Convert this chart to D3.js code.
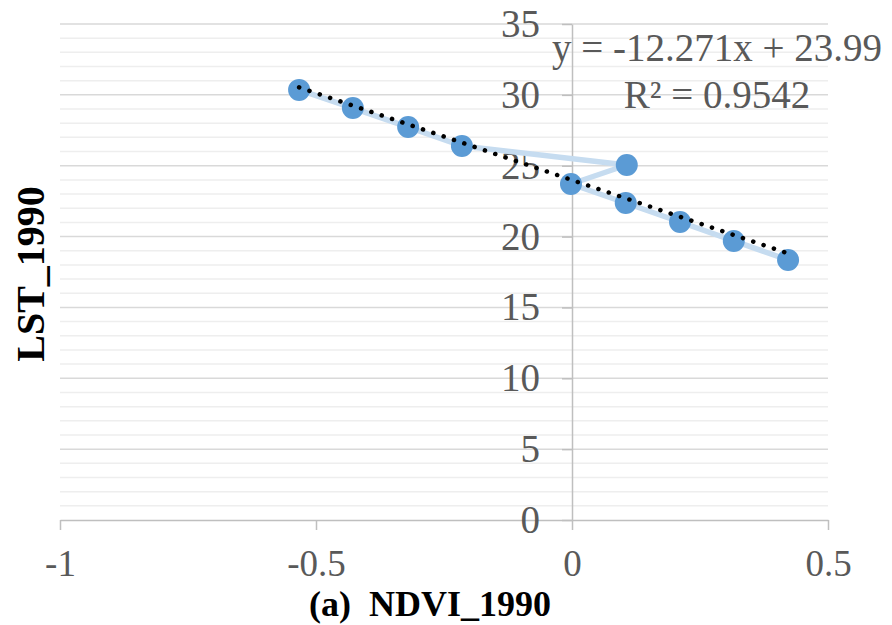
<!DOCTYPE html>
<html>
<head>
<meta charset="utf-8">
<script src="https://cdn.jsdelivr.net/npm/d3@7"></script>
<style>
  body { margin: 0; background: #fff; }
</style>
</head>
<body>
<script>
// data (in drawing order, the line joins them like this)
var ndvi = [-0.533, -0.428, -0.320, -0.215, 0.107, -0.002, 0.105, 0.211, 0.316, 0.422];
var lst  = [30.35, 29.07, 27.73, 26.39, 25.05, 23.71, 22.37, 21.03, 19.69, 18.35];
var xTicks = [-1, -0.5, 0, 0.5];
var yTicks = [0, 5, 10, 15, 20, 25, 30, 35];
var slope = -12.271, intercept = 23.99;
var eqLines = ["y = -12.271x + 23.99", "R\u00b2 = 0.9542"];

var serif = "'Liberation Serif', 'Times New Roman', serif";
var width = 892, height = 625;
var margin = {left: 60, right: 64, top: 24, bottom: 105};

var svg = d3.select("body").append("svg")
    .attr("width", width)
    .attr("height", height);

var x = d3.scaleLinear().domain([-1, 0.5]).range([margin.left, width - margin.right]);
var y = d3.scaleLinear().domain([0, 35]).range([height - margin.bottom, margin.top]);

// minor gridlines, every 1
var minor = d3.range(1, 35).filter(function (v) { return v % 5 !== 0; });
svg.append("g").selectAll("line")
    .data(minor)
    .enter().append("line")
    .attr("x1", x(-1)).attr("x2", x(0.5))
    .attr("y1", function (d) { return y(d); })
    .attr("y2", function (d) { return y(d); })
    .attr("stroke", "#eeeeee")
    .attr("stroke-width", 1.5);

// major gridlines
svg.append("g").selectAll("line")
    .data(yTicks.slice(1))
    .enter().append("line")
    .attr("x1", x(-1)).attr("x2", x(0.5))
    .attr("y1", function (d) { return y(d); })
    .attr("y2", function (d) { return y(d); })
    .attr("stroke", "#d9d9d9")
    .attr("stroke-width", 1.5);

// x axis at y = 0
var xAxis = svg.append("g")
    .attr("transform", "translate(0," + y(0) + ")")
    .call(d3.axisBottom(x).tickValues(xTicks).tickSize(10).tickSizeOuter(0).tickPadding(20)
        .tickFormat(function (d) { return d3.format("")(d).replace("\u2212", "-"); }));
xAxis.attr("font-family", serif);
xAxis.select(".domain").attr("stroke", "#bfbfbf").attr("stroke-width", 1.5);
xAxis.selectAll(".tick line").attr("stroke", "#bfbfbf").attr("stroke-width", 1.5);
xAxis.selectAll(".tick text")
    .attr("fill", "#595959")
    .style("font-family", serif)
    .style("font-size", "37px");

// y axis at x = 0
var yAxis = svg.append("g")
    .attr("transform", "translate(" + x(0) + ",0)")
    .call(d3.axisLeft(y).tickValues(yTicks).tickSize(10).tickSizeOuter(0).tickPadding(22));
yAxis.attr("font-family", serif);
yAxis.select(".domain").attr("stroke", "#bfbfbf").attr("stroke-width", 1.5);
yAxis.selectAll(".tick line").attr("stroke", "#bfbfbf").attr("stroke-width", 1.5);
yAxis.selectAll(".tick text")
    .attr("fill", "#595959")
    .style("font-family", serif)
    .style("font-size", "39px");

// series line
var pts = ndvi.map(function (v, i) { return {x: v, y: lst[i]}; });
var line = d3.line()
    .x(function (d) { return x(d.x); })
    .y(function (d) { return y(d.y); });
svg.append("path")
    .datum(pts)
    .attr("d", line)
    .attr("fill", "none")
    .attr("stroke", "#c6dcf0")
    .attr("stroke-width", 5.5)
    .attr("stroke-linejoin", "round");

// markers
svg.append("g").selectAll("circle")
    .data(pts)
    .enter().append("circle")
    .attr("cx", function (d) { return x(d.x); })
    .attr("cy", function (d) { return y(d.y); })
    .attr("r", 11)
    .attr("fill", "#5b9bd5");

// linear trendline, dotted
var xMin = d3.min(ndvi), xMax = d3.max(ndvi);
svg.append("line")
    .attr("x1", x(xMin)).attr("y1", y(slope * xMin + intercept))
    .attr("x2", x(xMax)).attr("y2", y(slope * xMax + intercept))
    .attr("stroke", "#000")
    .attr("stroke-width", 4.5)
    .attr("stroke-linecap", "round")
    .attr("stroke-dasharray", "0.1 10.8");

// equation label
svg.append("g").selectAll("text")
    .data(eqLines)
    .enter().append("text")
    .attr("x", 717)
    .attr("y", function (d, i) { return 61 + i * 47; })
    .attr("text-anchor", "middle")
    .attr("fill", "#595959")
    .style("font-family", serif)
    .style("font-size", "39px")
    .text(function (d) { return d; });

// axis titles
svg.append("text")
    .attr("x", 430)
    .attr("y", 616)
    .attr("text-anchor", "middle")
    .attr("fill", "#000")
    .style("font-family", serif)
    .style("font-size", "36px")
    .style("font-weight", "bold")
    .style("white-space", "pre")
    .text("(a)  NDVI_1990");

svg.append("text")
    .attr("transform", "translate(44,274) rotate(-90)")
    .attr("text-anchor", "middle")
    .attr("fill", "#000")
    .style("font-family", serif)
    .style("font-size", "40px")
    .style("font-weight", "bold")
    .text("LST_1990");
</script>
</body>
</html>
